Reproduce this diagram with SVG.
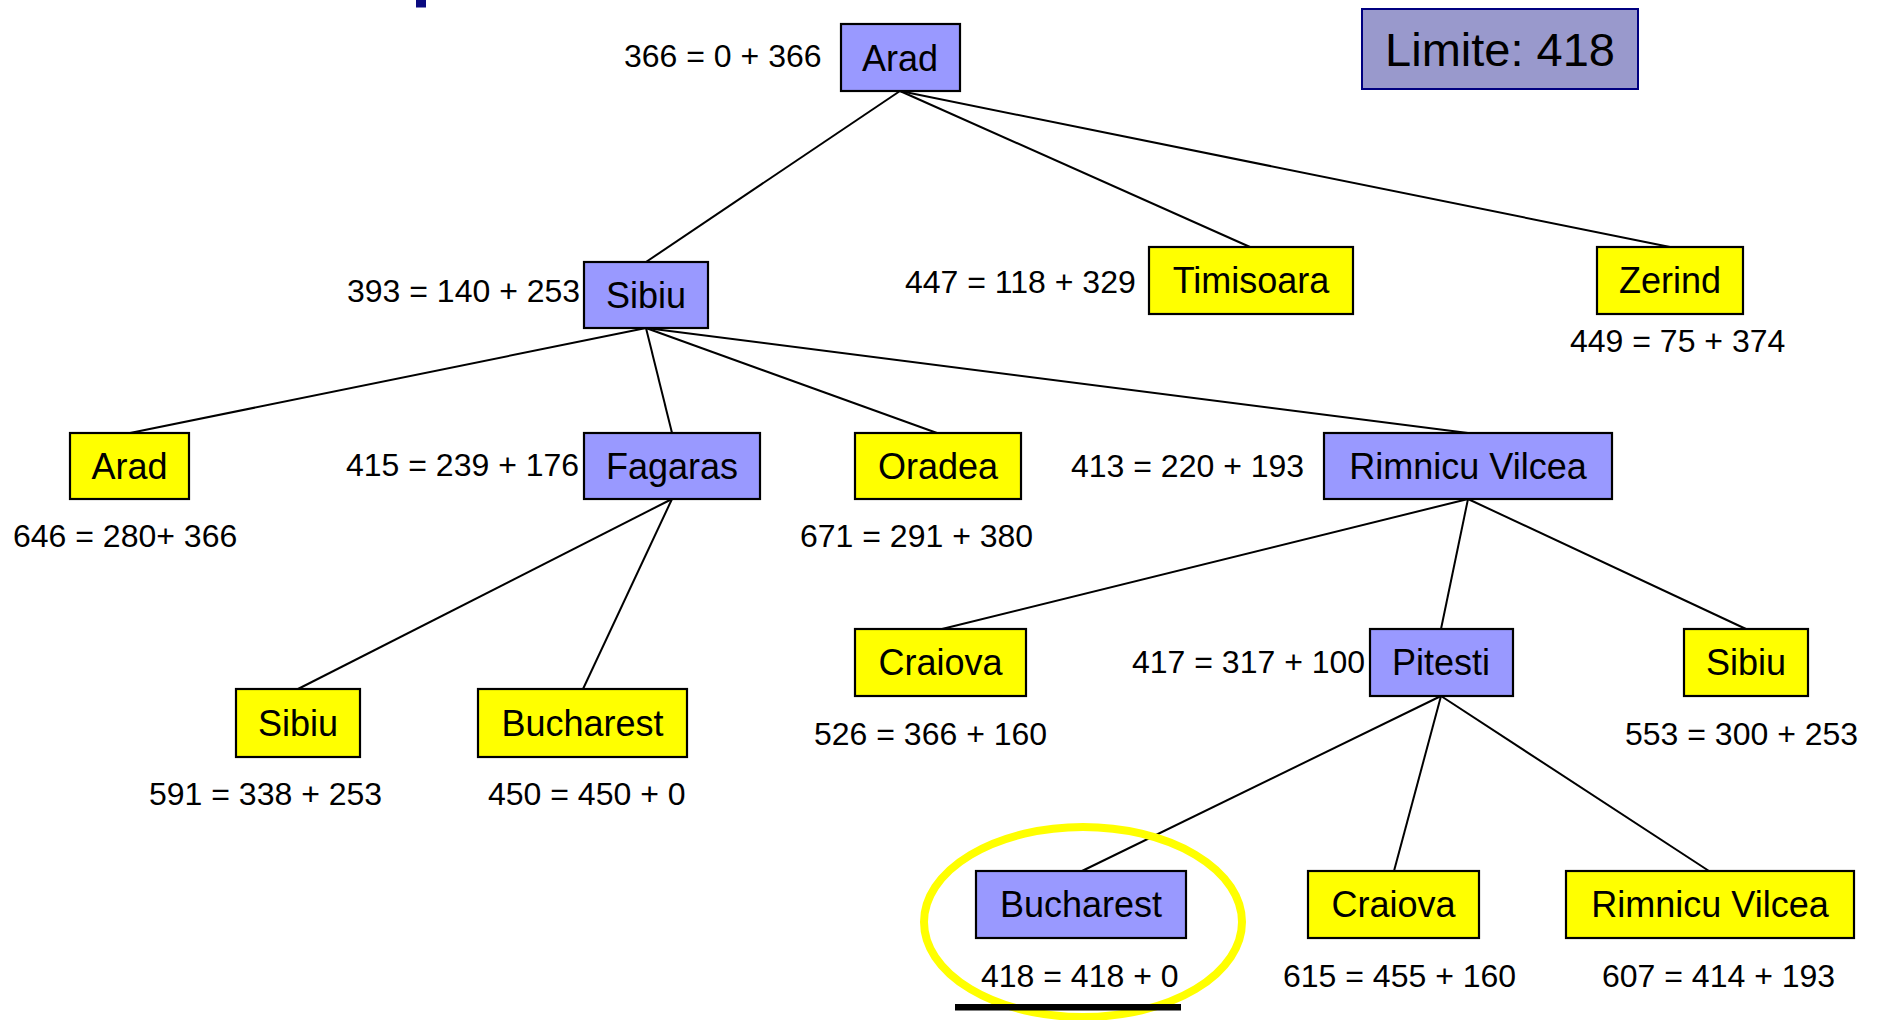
<svg xmlns="http://www.w3.org/2000/svg" width="1877" height="1020" viewBox="0 0 1877 1020">
<style>
.blue{fill:#9999FF;stroke:#000;stroke-width:2.2}
.yel{fill:#FFFF00;stroke:#000;stroke-width:2.2}
.nt{font-family:"Liberation Sans",Arial,sans-serif;font-size:36px;text-anchor:middle;fill:#000}
.num{font-family:"Liberation Sans",Arial,sans-serif;font-size:32px;fill:#000}
.edges line{stroke:#000;stroke-width:2}
</style>
<rect width="1877" height="1020" fill="#fff"/>
<rect x="416" y="0" width="10" height="7.5" fill="#0A0A80"/>
<g id="limite">
<rect x="1362" y="9" width="276" height="80" fill="#9999CC" stroke="#000080" stroke-width="2"/>
<text x="1500" y="66" font-family="Liberation Sans, Arial, sans-serif" font-size="47" text-anchor="middle">Limite: 418</text>
</g>
<g id="connectors" class="edges">
<line x1="900" y1="91" x2="646" y2="262"/>
<line x1="900" y1="91" x2="1250" y2="247"/>
<line x1="900" y1="91" x2="1670" y2="247"/>
<line x1="646" y1="328" x2="130" y2="433"/>
<line x1="646" y1="328" x2="672" y2="433"/>
<line x1="646" y1="328" x2="937" y2="433"/>
<line x1="646" y1="328" x2="1468" y2="433"/>
<line x1="672" y1="499" x2="298" y2="689"/>
<line x1="672" y1="499" x2="583" y2="689"/>
<line x1="1468" y1="499" x2="942" y2="629"/>
<line x1="1468" y1="499" x2="1441" y2="629"/>
<line x1="1468" y1="499" x2="1746" y2="629"/>
<line x1="1441" y1="696" x2="1082" y2="871"/>
<line x1="1441" y1="696" x2="1394" y2="871"/>
<line x1="1441" y1="696" x2="1709" y2="871"/>
</g>
<g id="n-arad0">
<rect class="blue" x="841" y="24" width="119" height="67"/>
<text class="nt" x="900" y="71">Arad</text>
<text class="num" x="624" y="67">366 = 0 + 366</text>
</g>
<g id="n-sibiu1">
<rect class="blue" x="584" y="262" width="124" height="66"/>
<text class="nt" x="646" y="308">Sibiu</text>
<text class="num" x="347" y="302">393 = 140 + 253</text>
</g>
<g id="n-timisoara">
<rect class="yel" x="1149" y="247" width="204" height="67"/>
<text class="nt" x="1251" y="293">Timisoara</text>
<text class="num" x="905" y="293">447 = 118 + 329</text>
</g>
<g id="n-zerind">
<rect class="yel" x="1597" y="247" width="146" height="67"/>
<text class="nt" x="1670" y="293">Zerind</text>
<text class="num" x="1570" y="352">449 = 75 + 374</text>
</g>
<g id="n-arad2">
<rect class="yel" x="70" y="433" width="119" height="66"/>
<text class="nt" x="129.5" y="479">Arad</text>
<text class="num" x="13" y="547">646 = 280+ 366</text>
</g>
<g id="n-fagaras">
<rect class="blue" x="584" y="433" width="176" height="66"/>
<text class="nt" x="672" y="479">Fagaras</text>
<text class="num" x="346" y="476">415 = 239 + 176</text>
</g>
<g id="n-oradea">
<rect class="yel" x="855" y="433" width="166" height="66"/>
<text class="nt" x="938" y="479">Oradea</text>
<text class="num" x="800" y="547">671 = 291 + 380</text>
</g>
<g id="n-rimnicu2">
<rect class="blue" x="1324" y="433" width="288" height="66"/>
<text class="nt" x="1468" y="479">Rimnicu Vilcea</text>
<text class="num" x="1071" y="477">413 = 220 + 193</text>
</g>
<g id="n-sibiu3a">
<rect class="yel" x="236" y="689" width="124" height="68"/>
<text class="nt" x="298" y="736">Sibiu</text>
<text class="num" x="149" y="805">591 = 338 + 253</text>
</g>
<g id="n-bucharest3">
<rect class="yel" x="478" y="689" width="209" height="68"/>
<text class="nt" x="582.5" y="736">Bucharest</text>
<text class="num" x="488" y="805">450 = 450 + 0</text>
</g>
<g id="n-craiova3">
<rect class="yel" x="855" y="629" width="171" height="67"/>
<text class="nt" x="940.5" y="675">Craiova</text>
<text class="num" x="814" y="745">526 = 366 + 160</text>
</g>
<g id="n-pitesti">
<rect class="blue" x="1370" y="629" width="143" height="67"/>
<text class="nt" x="1441" y="675">Pitesti</text>
<text class="num" x="1132" y="673">417 = 317 + 100</text>
</g>
<g id="n-sibiu3b">
<rect class="yel" x="1684" y="629" width="124" height="67"/>
<text class="nt" x="1746" y="675">Sibiu</text>
<text class="num" x="1625" y="745">553 = 300 + 253</text>
</g>
<g id="n-bucharest4">
<rect class="blue" x="976" y="871" width="210" height="67"/>
<text class="nt" x="1081" y="917">Bucharest</text>
<text class="num" x="981" y="987">418 = 418 + 0</text>
</g>
<g id="n-craiova4">
<rect class="yel" x="1308" y="871" width="171" height="67"/>
<text class="nt" x="1393.5" y="917">Craiova</text>
<text class="num" x="1283" y="987">615 = 455 + 160</text>
</g>
<g id="n-rimnicu4">
<rect class="yel" x="1566" y="871" width="288" height="67"/>
<text class="nt" x="1710" y="917">Rimnicu Vilcea</text>
<text class="num" x="1602" y="987">607 = 414 + 193</text>
</g>
<g id="highlight">
<ellipse cx="1083" cy="922" rx="159" ry="95" fill="none" stroke="#FFFF00" stroke-width="8"/>
<rect x="955" y="1004" width="226" height="6.5" fill="#000"/>
</g>
</svg>
